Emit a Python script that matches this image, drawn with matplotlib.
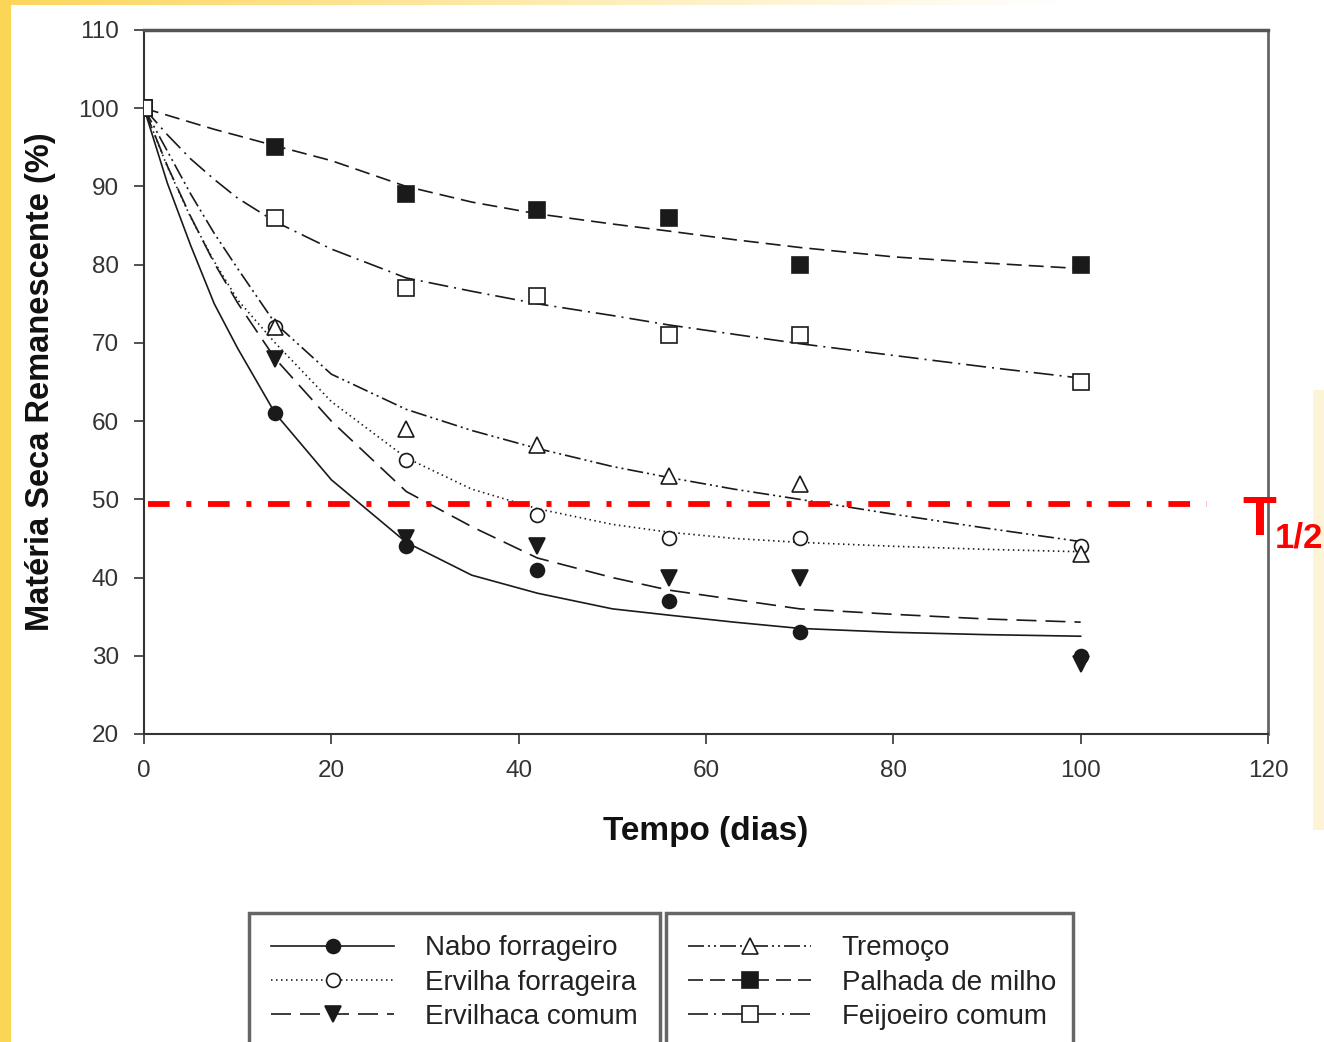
import matplotlib
matplotlib.use('Agg')
import matplotlib.pyplot as plt
import numpy as np
from matplotlib.lines import Line2D
from matplotlib.patches import Rectangle

plt.rcParams['font.family'] = ['Liberation Sans', 'DejaVu Sans']

#sampling days (measured points)
days = [0, 14, 28, 42, 56, 70, 100]

#measured dry matter remaining (%)
naboPts = [100, 61, 44, 41, 37, 33, 30]
ervilhaPts = [100, 72, 55, 48, 45, 45, 44]
ervilhacaPts = [100, 68, 45, 44, 40, 40, 29]
tremocoPts = [100, 72, 59, 57, 53, 52, 43]
palhadaPts = [100, 95, 89, 87, 86, 80, 80]
feijoeiroPts = [100, 86, 77, 76, 71, 71, 65]

#fitted curves
curveDays = [0, 2.5, 5, 7.5, 10, 14, 20, 28, 35, 42, 50, 56, 63, 70, 80, 90, 100]
naboFit = [100, 90.4, 82.4, 75.0, 69.3, 61.0, 52.5, 44.5, 40.3, 38.0, 36.0, 35.2, 34.3, 33.5, 33.0, 32.7, 32.5]
ervilhaFit = [100, 92.5, 86.0, 80.4, 75.5, 70.0, 62.5, 55.3, 51.3, 48.8, 46.8, 45.8, 45.0, 44.5, 44.0, 43.6, 43.3]
ervilhacaFit = [100, 92.6, 86.1, 80.2, 75.1, 68.0, 60.0, 51.0, 46.5, 42.5, 40.0, 38.4, 37.2, 36.0, 35.3, 34.7, 34.3]
tremocoFit = [100, 94.5, 89.0, 84.0, 79.5, 72.5, 66.0, 61.5, 58.8, 56.5, 54.2, 52.8, 51.3, 50.0, 48.1, 46.3, 44.6]
palhadaFit = [100, 99.1, 98.2, 97.3, 96.5, 95.2, 93.3, 90.0, 88.0, 86.5, 85.2, 84.3, 83.2, 82.2, 81.0, 80.2, 79.5]
feijoeiroFit = [100, 96.6, 93.5, 90.9, 88.5, 85.5, 82.0, 78.3, 76.6, 75.0, 73.5, 72.3, 71.1, 69.9, 68.4, 66.9, 65.5]

#half-life reference line
halfX = [0.4, 113.5]
halfY = [49.4, 49.4]

labels = ['Nabo forrageiro', 'Ervilha forrageira', 'Ervilhaca comum',
          'Tremoço', 'Palhada de milho', 'Feijoeiro comum']
xTicks = [0, 20, 40, 60, 80, 100, 120]
yTicks = [20, 30, 40, 50, 60, 70, 80, 90, 100, 110]

#styles: marker, filled, dash pattern, size
lineCol = '#1a1a1a'
styles = [
    ('o', True, None, 10),
    ('o', False, (0.9, 2.1), 10),
    ('v', True, (12, 5.4), 11),
    ('^', False, (9.6, 2.4, 1.2, 2.4, 1.2, 2.4), 11),
    ('s', True, (9, 4.2), 11),
    ('s', False, (12, 3.6, 1.2, 3.6), 11),
]
ptsList = [naboPts, ervilhaPts, ervilhacaPts, tremocoPts, palhadaPts, feijoeiroPts]
fitList = [naboFit, ervilhaFit, ervilhacaFit, tremocoFit, palhadaFit, feijoeiroFit]

fig = plt.figure(figsize=(13.24, 10.42), dpi=100)
fig.patch.set_facecolor('white')

#yellow slide decoration
fig.patches.append(Rectangle((0, 0), 11/1324, 1, transform=fig.transFigure,
                             facecolor='#FBD556', edgecolor='none', zorder=0))
fig.patches.append(Rectangle((1313/1324, 1-830/1042), 11/1324, 440/1042, transform=fig.transFigure,
                             facecolor='#FDF4D8', edgecolor='none', zorder=0))
topAx = fig.add_axes([0, 1-5/1042, 1, 5/1042])
grad = np.clip(np.linspace(0, 1.25, 400), 0, 1)
yel = np.array([0.99, 0.84, 0.36])
img = yel[None, :] * (1-grad[:, None]) + np.ones(3)[None, :] * grad[:, None]
topAx.imshow(img[None, :, :], aspect='auto', extent=[0, 1, 0, 1])
topAx.axis('off')

ax = fig.add_axes([144/1324, 1-734/1042, 1124/1324, 704/1042])

handles = []
for i in range(6):
    mk, filled, dash, ms = styles[i]
    fc = lineCol if filled else 'white'
    kw = {}
    if dash is not None:
        kw['dashes'] = dash
    ax.plot(curveDays, fitList[i], color=lineCol, lw=1.2, zorder=2, **kw)
    ax.plot(days, ptsList[i], linestyle='none', marker=mk, ms=ms, mfc=fc,
            mec=lineCol, mew=1.2, zorder=3+i)
    handles.append(Line2D([0], [0], color=lineCol, lw=1.2, marker=mk, ms=ms, mfc=fc,
                          mec=lineCol, mew=1.2, **kw))

ax.plot(halfX, halfY, color='#FF0000', lw=4.2, dashes=(3.71, 2.86, 0.86, 2.86),
        solid_capstyle='butt', dash_capstyle='butt', zorder=10, clip_on=False)

ax.set_xlim(0, 120)
ax.set_ylim(20, 110)
ax.set_xticks(xTicks)
ax.set_yticks(yTicks)
ax.tick_params(direction='out', length=7, width=1.2, colors='#333333', labelsize=17.5, pad=11)
ax.tick_params(axis='x', pad=12)
for s in ['left', 'bottom']:
    ax.spines[s].set_color('#333333')
    ax.spines[s].set_linewidth(1.5)
ax.spines['top'].set_color('#555555')
ax.spines['top'].set_linewidth(2.5)
ax.spines['right'].set_color('#666666')
ax.spines['right'].set_linewidth(2)

ax.set_xlabel('Tempo (dias)', fontsize=24, fontweight='bold', color='#111111', labelpad=24)
ax.set_ylabel('Matéria Seca Remanescente (%)', fontsize=23.5, fontweight='bold', color='#111111', labelpad=16)

#T1/2 label
fig.text(1242/1324, 1-535/1042, 'T', color='#FF0000', fontsize=40, fontweight='bold', va='baseline', ha='left')
fig.text(1275/1324, 1-547/1042, '1/2', color='#FF0000', fontsize=25, fontweight='bold', va='baseline', ha='left')

#two legend boxes below the plot, cut off by the figure edge
legKw = dict(loc='upper left', mode='expand', borderaxespad=0, fontsize=20, numpoints=1,
             handlelength=4.43, handletextpad=1.1, borderpad=0.8, labelspacing=0.3,
             fancybox=False, framealpha=1, edgecolor='#666666', labelcolor='#222222')
leg1 = ax.legend(handles[:3], labels[:3], bbox_to_anchor=(249/1324, 0, 411/1324, 1-913/1042),
                 bbox_transform=fig.transFigure, **legKw)
leg1.get_frame().set_linewidth(2.5)
ax.add_artist(leg1)
leg2 = ax.legend(handles[3:], labels[3:], bbox_to_anchor=(666/1324, 0, 407/1324, 1-913/1042),
                 bbox_transform=fig.transFigure, **legKw)
leg2.get_frame().set_linewidth(2.5)

fig.savefig('out.png', dpi=100)
